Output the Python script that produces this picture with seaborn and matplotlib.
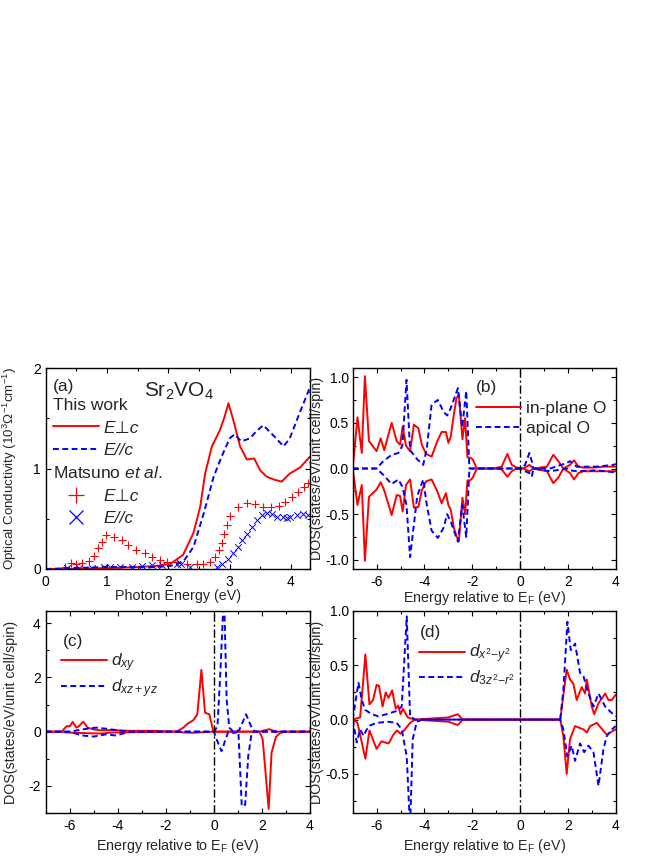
import numpy as np
import pandas as pd
import seaborn as sns
import matplotlib.pyplot as plt
from matplotlib.lines import Line2D
from matplotlib.ticker import MultipleLocator

# ---- (a) optical conductivity, 10^3 Ohm^-1 cm^-1 ----
a_perp_e = [0.0, 0.5, 1.0, 1.5, 1.8, 2.03, 2.24, 2.41, 2.52, 2.60, 2.71, 2.84, 2.92, 2.98, 3.06,
            3.17, 3.28, 3.40, 3.50, 3.60, 3.72, 3.85, 3.98, 4.15, 4.31]
a_perp = [0.0, 0.003, 0.008, 0.02, 0.03, 0.05, 0.14, 0.36, 0.62, 0.95, 1.22, 1.38, 1.52, 1.65, 1.48,
          1.22, 1.09, 1.10, 0.98, 0.92, 0.89, 0.87, 0.95, 1.01, 1.12]
a_par_e = [0.0, 0.5, 1.0, 1.5, 1.8, 2.03, 2.24, 2.41, 2.58, 2.74, 2.87, 3.00, 3.08, 3.19, 3.33,
           3.45, 3.55, 3.71, 3.88, 3.98, 4.14, 4.31]
a_par = [0.0, 0.01, 0.02, 0.02, 0.02, 0.03, 0.07, 0.22, 0.56, 0.92, 1.12, 1.30, 1.34, 1.27, 1.30,
         1.38, 1.43, 1.33, 1.22, 1.30, 1.55, 1.81]
# Matsuno et al. experimental points
m_perp_e = [0.31, 0.42, 0.50, 0.59, 0.70, 0.78, 0.86, 0.91, 0.99, 1.11, 1.24, 1.35, 1.48, 1.62, 1.73,
            1.86, 1.97, 2.14, 2.30, 2.46, 2.57, 2.68, 2.76, 2.83, 2.87, 2.91, 2.95, 3.01, 3.13, 3.29,
            3.42, 3.54, 3.67, 3.80, 3.90, 4.01, 4.12, 4.21, 4.28]
m_perp = [0.02, 0.06, 0.05, 0.06, 0.08, 0.13, 0.21, 0.27, 0.34, 0.32, 0.29, 0.24, 0.19, 0.16, 0.12,
          0.09, 0.07, 0.07, 0.05, 0.05, 0.05, 0.07, 0.12, 0.19, 0.26, 0.35, 0.44, 0.53, 0.62, 0.66,
          0.65, 0.62, 0.62, 0.63, 0.67, 0.72, 0.77, 0.82, 0.86]
m_par_e = [0.35, 0.55, 0.75, 0.95, 1.05, 1.21, 1.40, 1.57, 1.73, 1.90, 2.14, 2.20, 2.35, 2.79, 2.87,
           2.98, 3.06, 3.13, 3.20, 3.28, 3.36, 3.44, 3.52, 3.61, 3.69, 3.77, 3.87, 3.93, 3.98, 4.09,
           4.20, 4.28]
m_par = [0.01, 0.01, 0.01, 0.02, 0.02, 0.02, 0.02, 0.03, 0.04, 0.04, 0.05, 0.05, 0.02, 0.02, 0.05,
         0.10, 0.16, 0.22, 0.29, 0.35, 0.42, 0.49, 0.54, 0.56, 0.55, 0.52, 0.52, 0.51, 0.52, 0.54,
         0.55, 0.54]

# ---- (b) O partial DOS (spin up > 0, spin down < 0) ----
b_inpl_e = [-7.0, -6.80, -6.62, -6.49, -6.32, -6.0, -5.83, -5.68, -5.37, -5.16, -5.02, -4.91, -4.77,
            -4.60, -4.44, -4.25, -4.11, -3.93, -3.70, -3.46, -3.28, -3.10, -3.0, -2.90, -2.77, -2.66,
            -2.56, -2.41, -2.30, -2.20, -2.09, -1.98, -1.81, -1.12, -0.77, -0.53, -0.35, -0.14, 0.14,
            0.39, 0.56, 1.12, 1.39, 1.60, 1.81, 2.09, 2.26, 2.44, 2.65, 3.07, 3.49, 3.9, 4.0]
b_inpl_up = [0.0, 0.56, 0.17, 1.01, 0.30, 0.19, 0.33, 0.20, 0.50, 0.30, 0.26, 0.46, 0.25,
             0.19, 0.48, 0.44, 0.26, 0.16, 0.13, 0.30, 0.40, 0.40, 0.28, 0.35, 0.59, 0.77,
             0.81, 0.32, 0.55, 0.12, 0.12, 0.10, 0.0, 0.0, 0.02, 0.16, 0.04, 0.01, 0.0,
             0.04, 0.0, 0.02, 0.15, 0.08, 0.0, 0.04, 0.09, 0.02, 0.01, 0.01, 0.02, 0.02, 0.02]
b_inpl_dn = [0.0, -0.40, -0.18, -1.01, -0.31, -0.23, -0.15, -0.24, -0.51, -0.29, -0.30, -0.47, -0.18,
             -0.12, -0.43, -0.42, -0.24, -0.14, -0.12, -0.25, -0.38, -0.27, -0.40, -0.45, -0.65, -0.74,
             -0.80, -0.32, -0.50, -0.13, -0.13, -0.10, 0.0, 0.0, -0.01, -0.09, -0.03, 0.0, 0.0,
             -0.03, 0.0, -0.03, -0.16, -0.10, 0.0, -0.05, -0.12, -0.05, -0.03, -0.03, -0.03, -0.03, -0.03]
b_apic_e = [-7.0, -6.0, -5.72, -5.37, -5.09, -4.92, -4.75, -4.60, -4.30, -4.05, -3.90, -3.70, -3.44,
            -3.20, -3.05, -2.90, -2.60, -2.42, -2.25, -2.12, 0.0, 0.21, 0.39, 0.49, 0.56, 1.26, 1.95,
            2.09, 2.37, 3.2, 3.9, 4.0]
b_apic_up = [0.0, 0.0, 0.08, 0.15, 0.17, 0.25, 0.97, 0.20, 0.10, 0.04, 0.22, 0.70, 0.75,
             0.62, 0.58, 0.66, 0.88, 0.45, 0.85, 0.0, 0.0, 0.04, 0.17, 0.08, 0.0, 0.0, 0.06,
             0.08, 0.02, 0.02, 0.04, 0.05]
b_apic_dn = [0.0, 0.0, -0.07, -0.17, -0.12, -0.20, -0.40, -0.97, -0.30, -0.12, -0.40, -0.68, -0.76,
             -0.65, -0.50, -0.58, -0.80, -0.40, -0.75, 0.0, 0.0, -0.03, -0.05, -0.09, 0.0, -0.03, 0.0,
             -0.02, -0.03, -0.02, -0.04, -0.05]

# ---- (c) V t2g DOS ----
c_xy_up_e = [-7.0, -6.34, -6.13, -5.99, -5.88, -5.72, -5.62, -5.44, -5.26, -5.0, -4.7, -4.2, -3.5,
             -2.5, -1.55, -1.27, -1.13, -0.86, -0.69, -0.52, -0.37, -0.19, -0.02, 1.9, 2.3, 2.6, 4.0]
c_xy_up = [0.0, 0.0, 0.2, 0.2, 0.36, 0.15, 0.2, 0.37, 0.15, 0.08, 0.05, 0.06, 0.03,
           0.03, 0.0, 0.15, 0.27, 0.42, 0.64, 2.28, 0.70, 0.64, 0.0, 0.0, 0.09, 0.0, 0.0]
c_xy_dn_e = [-7.0, -6.34, -6.13, -5.5, -4.7, -4.2, -1.55, -1.27, -0.86, -0.02, 1.9, 2.03, 2.28,
             2.40, 2.58, 2.75, 2.96, 4.0]
c_xy_dn = [0.0, 0.0, -0.03, -0.05, -0.07, -0.03, 0.0, -0.03, -0.04, 0.0, 0.0, -0.28, -2.85,
           -0.78, -0.20, -0.05, 0.0, 0.0]
c_xz_up_e = [-7.0, -6.0, -5.5, -4.9, -4.4, -4.0, -3.6, 0.0, 0.15, 0.27, 0.42, 0.53, 0.64, 0.81,
             1.05, 1.34, 1.57, 1.71, 4.0]
c_xz_up = [0.0, 0.0, 0.08, 0.15, 0.10, 0.05, 0.0, 0.0, 0.2, 2.2, 5.2, 1.2, 0.15, 0.0,
           0.05, 0.64, 0.15, 0.0, 0.0]
c_xz_dn_e = [-7.0, -6.0, -5.5, -5.0, -4.5, -4.1, -3.7, -3.4, 0.0, 0.11, 0.32, 0.46, 0.60, 0.85,
             1.02, 1.16, 1.30, 1.43, 1.57, 1.70, 4.0]
c_xz_dn = [0.0, 0.0, -0.14, -0.18, -0.10, -0.14, -0.05, 0.0, 0.0, -0.28, -0.72, -0.35, 0.0, -0.05,
           0.0, -2.75, -2.70, -0.90, -0.05, 0.0, 0.0]

# ---- (d) V eg DOS ----
d_x2_up_e = [-7.0, -6.69, -6.47, -6.30, -6.15, -6.0, -5.9, -5.75, -5.62, -5.5, -5.35, -5.2, -5.1,
             -5.0, -4.9, -4.7, -4.4, -3.0, -2.6, -2.4, 1.68, 1.95, 2.09, 2.23, 2.37, 2.58, 2.72, 2.79,
             3.0, 3.1, 3.28, 3.56, 3.7, 3.84, 4.0]
d_x2_up = [0.0, 0.02, 0.60, 0.14, 0.18, 0.32, 0.31, 0.12, 0.25, 0.20, 0.27, 0.10, 0.13,
           0.05, 0.10, 0.02, 0.0, 0.02, 0.05, 0.0, 0.0, 0.46, 0.37, 0.33, 0.18, 0.30, 0.24, 0.37,
           0.12, 0.05, 0.15, 0.24, 0.18, 0.18, 0.23]
d_x2_dn_e = [-7.0, -6.8, -6.47, -6.3, -6.0, -5.8, -5.5, -5.3, -5.15, -5.0, -4.85, -4.6, -4.4, -3.0,
             -2.6, -2.4, 1.68, 1.81, 1.95, 2.09, 2.30, 2.65, 2.79, 2.93, 3.21, 3.63, 3.84, 4.0]
d_x2_dn = [0.0, -0.03, -0.36, -0.10, -0.27, -0.20, -0.22, -0.14, -0.10, -0.13, -0.10, -0.03, 0.0, -0.02,
           -0.05, 0.0, 0.0, -0.15, -0.50, -0.18, -0.06, -0.09, -0.12, -0.06, -0.03, -0.14, -0.11, -0.09]
d_z2_up_e = [-7.0, -6.76, -6.62, -6.48, -6.2, -5.93, -5.58, -5.16, -4.95, -4.74, -4.6, -4.39, 1.68,
             1.81, 1.98, 2.12, 2.30, 2.51, 2.65, 2.86, 3.07, 3.28, 3.56, 3.84, 4.0]
d_z2_up = [0.0, 0.34, 0.18, 0.09, 0.05, 0.03, 0.05, 0.08, 0.12, 0.95, 0.03, 0.0, 0.0,
           0.27, 0.90, 0.64, 0.70, 0.43, 0.40, 0.24, 0.12, 0.24, 0.12, 0.06, 0.03]
d_z2_dn_e = [-7.0, -6.83, -6.69, -6.55, -6.34, -6.0, -5.5, -5.16, -4.95, -4.74, -4.6, -4.49, -4.32,
             -4.1, 1.68, 1.81, 1.98, 2.16, 2.30, 2.51, 2.68, 2.86, 3.07, 3.28, 3.49, 3.63, 3.84, 4.0]
d_z2_dn = [0.0, -0.21, -0.09, -0.15, -0.06, -0.03, -0.02, -0.03, -0.09, -0.34, -1.0, -0.18, -0.02,
           0.0, 0.0, -0.09, -0.34, -0.24, -0.38, -0.22, -0.30, -0.24, -0.30, -0.61, -0.27, -0.15, -0.09, -0.06]

sns.set_style("ticks")
plt.rcParams['font.family'] = ['Liberation Sans', 'DejaVu Sans']
plt.rcParams['mathtext.fontset'] = 'custom'
plt.rcParams['mathtext.rm'] = 'Liberation Sans'
plt.rcParams['mathtext.it'] = 'Liberation Sans:italic'
plt.rcParams['mathtext.bf'] = 'Liberation Sans:bold'
plt.rcParams['axes.unicode_minus'] = False

RED = '#ff0000'
BLUE = '#0000ff'
DASH = (0, (3, 1.8))
LW = 1.4
LAB = 10.3   # axis label size
TICK = 10    # tick label size
LEG = 12.5   # legend / panel tag size

fig = plt.figure(figsize=(6.64, 8.6), dpi=100)
W, H = 664.0, 860.0
def px_axes(left, top, right, bottom):
  return fig.add_axes([left / W, 1 - bottom / H, (right - left) / W, (bottom - top) / H])

ax_a = px_axes(45.7, 368, 310, 569)
ax_b = px_axes(352.7, 368, 615.7, 569)
ax_c = px_axes(45.7, 611, 310, 813)
ax_d = px_axes(352.7, 611, 615.7, 813)

def style(ax, xmaj, xmin, ymaj, ymin, ypad=3.5):
  ax.xaxis.set_major_locator(MultipleLocator(xmaj))
  ax.xaxis.set_minor_locator(MultipleLocator(xmin))
  ax.yaxis.set_major_locator(MultipleLocator(ymaj))
  ax.yaxis.set_minor_locator(MultipleLocator(ymin))
  ax.tick_params(which='both', direction='in', top=True, right=True, width=0.8,
                 color='black', labelsize=TICK, labelcolor='black')
  ax.tick_params(which='major', length=3.5)
  ax.tick_params(which='minor', length=2)
  ax.tick_params(axis='x', which='major', pad=4)
  ax.tick_params(axis='y', which='major', pad=ypad)
  for s in ax.spines.values():
    s.set_linewidth(1.0)
    s.set_color('black')
  ax.set_facecolor('white')

def line(ax, e, v, color, ls):
  sns.lineplot(x=e, y=v, ax=ax, color=color, linestyle=ls, lw=LW, sort=False, estimator=None)

leg_kw = dict(loc='upper left', frameon=False, borderpad=0, borderaxespad=0,
              handlelength=2.63, handletextpad=0.25)

# (a)
line(ax_a, a_perp_e, a_perp, RED, '-')
line(ax_a, a_par_e, a_par, BLUE, DASH)
sns.scatterplot(x=m_perp_e, y=m_perp, ax=ax_a, marker='+', color=RED, s=28, linewidth=0.8, legend=False)
sns.scatterplot(x=m_par_e, y=m_par, ax=ax_a, marker='x', color=BLUE, s=22, linewidth=0.7, legend=False)
ax_a.set_xlim(0, 4.31)
ax_a.set_ylim(0, 2)
style(ax_a, 1, 0.5, 1, 0.5)
ax_a.set_xlabel('Photon Energy (eV)', fontsize=LAB)
ax_a.set_ylabel('Optical Conductivity (10$^3\\Omega^{-1}$cm$^{-1}$)', fontsize=9.6)
ax_a.text(0.028, 0.91, '(a)', transform=ax_a.transAxes, fontsize=LEG, va='center')
ax_a.text(0.504, 0.884, 'Sr$_2$VO$_4$', transform=ax_a.transAxes, fontsize=15, ha='center', va='center')
h1 = [Line2D([], [], color=RED, lw=LW), Line2D([], [], color=BLUE, lw=LW, ls=DASH)]
leg1 = ax_a.legend(h1, ['E⊥c', 'E//c'], bbox_to_anchor=(0.028, 0.852), labelspacing=0.44,
                   title='This work', alignment='left', prop={'size': LEG, 'style': 'italic'},
                   title_fontsize=LEG, **leg_kw)
ax_a.add_artist(leg1)
h2 = [Line2D([], [], color=RED, marker='+', ls='none', ms=12, mew=0.9),
      Line2D([], [], color=BLUE, marker='x', ls='none', ms=10, mew=0.9)]
ax_a.legend(h2, ['E⊥c', 'E//c'], bbox_to_anchor=(0.028, 0.518), labelspacing=0.44,
            title='Matsuno $\\mathit{et\\ al.}$', alignment='left',
            prop={'size': LEG, 'style': 'italic'}, title_fontsize=LEG, **leg_kw)

# (b)
line(ax_b, b_inpl_e, b_inpl_up, RED, '-')
line(ax_b, b_inpl_e, b_inpl_dn, RED, '-')
line(ax_b, b_apic_e, b_apic_up, BLUE, DASH)
line(ax_b, b_apic_e, b_apic_dn, BLUE, DASH)

# (c)
line(ax_c, c_xy_up_e, c_xy_up, RED, '-')
line(ax_c, c_xy_dn_e, c_xy_dn, RED, '-')
line(ax_c, c_xz_up_e, c_xz_up, BLUE, DASH)
line(ax_c, c_xz_dn_e, c_xz_dn, BLUE, DASH)

# (d)
line(ax_d, d_x2_up_e, d_x2_up, RED, '-')
line(ax_d, d_x2_dn_e, d_x2_dn, RED, '-')
line(ax_d, d_z2_up_e, d_z2_up, BLUE, DASH)
line(ax_d, d_z2_dn_e, d_z2_dn, BLUE, DASH)

ylims = {ax_b: (-1.1, 1.1), ax_c: (-3.0, 4.45), ax_d: (-0.86, 1.0)}
for ax, labels, tag, tagpos, legpos, lsp in [
    (ax_b, ['in-plane O', 'apical O'], '(b)', (0.469, 0.903), (0.468, 0.838), 0.30),
    (ax_c, ['$d_{xy}$', '$d_{xz+yz}$'], '(c)', (0.065, 0.847), (0.058, 0.799), 0.2),
    (ax_d, ['$d_{x^2\\mathrm{-}y^2}$', '$d_{3z^2\\mathrm{-}r^2}$'], '(d)', (0.256, 0.894), (0.253, 0.843), 0.2)]:
  ax.axvline(0, color='black', lw=1.0, ls=(0, (6, 2, 1.5, 2)))
  ax.set_xlim(-7, 4)
  ax.set_ylim(*ylims[ax])
  if ax is ax_c:
    style(ax, 2, 1, 2, 1)
  else:
    style(ax, 2, 1, 0.5, 0.25, ypad=2.5)
    ax.yaxis.set_major_formatter(plt.FormatStrFormatter('%.1f'))
  ax.set_xlabel('Energy relative to E$_\\mathrm{F}$ (eV)', fontsize=LAB)
  ax.set_ylabel('DOS(states/eV/unit cell/spin)', fontsize=LAB)
  ax.text(tagpos[0], tagpos[1], tag, transform=ax.transAxes, fontsize=LEG, va='center')
  hh = [Line2D([], [], color=RED, lw=LW), Line2D([], [], color=BLUE, lw=LW, ls=DASH)]
  ax.legend(hh, labels, bbox_to_anchor=legpos, labelspacing=lsp, prop={'size': LEG}, **leg_kw)

# label placement (right edge of rotated text / top of x label)
ax_a.yaxis.set_label_coords(-0.1, 0.5)
ax_c.yaxis.set_label_coords(-0.104, 0.5)
ax_b.yaxis.set_label_coords(-0.109, 0.5)
ax_d.yaxis.set_label_coords(-0.109, 0.5)
ax_a.xaxis.set_label_coords(0.5, -0.10)
ax_b.xaxis.set_label_coords(0.5, -0.10)
ax_c.xaxis.set_label_coords(0.5, -0.119)
ax_d.xaxis.set_label_coords(0.5, -0.119)

fig.savefig('out.png', dpi=100, facecolor='white')
